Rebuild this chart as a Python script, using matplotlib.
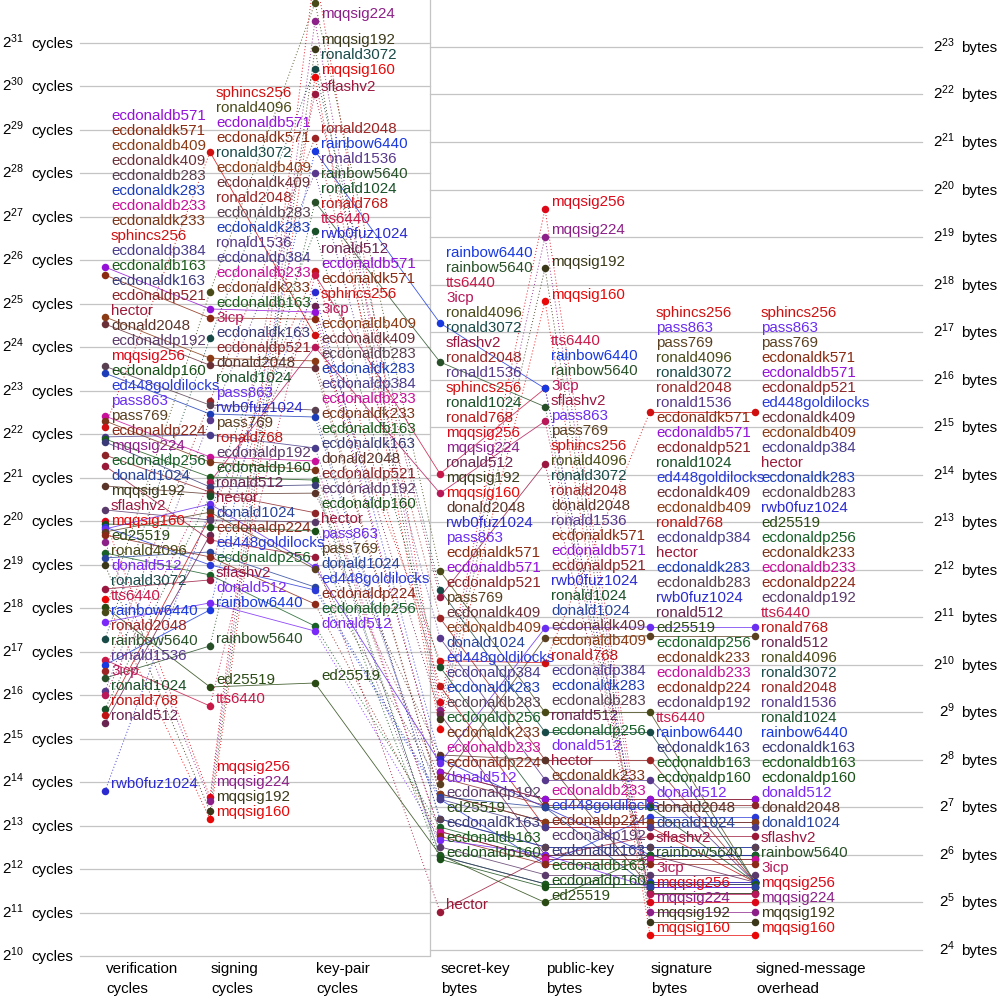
import matplotlib
matplotlib.use('Agg')
import matplotlib.pyplot as plt

plt.rcParams['font.family'] = ['Liberation Sans', 'DejaVu Sans']
plt.rcParams['mathtext.fontset'] = 'custom'
plt.rcParams['mathtext.rm'] = 'Liberation Sans'
plt.rcParams['mathtext.it'] = 'Liberation Sans:italic'
plt.rcParams['mathtext.bf'] = 'Liberation Sans:bold'

# ---------------- data ----------------
schemes = [
    'ecdonaldb571', 'ecdonaldk571', 'ecdonaldb409', 'ecdonaldk409', 'ecdonaldb283',
    'ecdonaldk283', 'ecdonaldb233', 'ecdonaldk233', 'sphincs256', 'ecdonaldp384',
    'ecdonaldb163', 'ecdonaldk163', 'ecdonaldp521', 'hector', 'donald2048',
    'ecdonaldp192', 'mqqsig256', 'ecdonaldp160', 'ed448goldilocks', 'pass863',
    'pass769', 'ecdonaldp224', 'mqqsig224', 'ecdonaldp256', 'donald1024',
    'mqqsig192', 'sflashv2', 'mqqsig160', 'ed25519', 'ronald4096',
    'donald512', 'ronald3072', 'tts6440', 'rainbow6440', 'ronald2048',
    'rainbow5640', 'ronald1536', '3icp', 'ronald1024', 'ronald768',
    'ronald512', 'rwb0fuz1024',
]

scheme_colors = [
    '#9411d8', '#8a2a10', '#8a3a14', '#6a3038', '#584050',
    '#1c3cb8', '#c8109a', '#7a3418', '#d01010', '#4a3c8c',
    '#1a5a1a', '#3a3a78', '#8c2428', '#9a1838', '#5a3428',
    '#5a3a6a', '#dc0818', '#185018', '#2a3ad8', '#6a2ef0',
    '#5a4020', '#8c2818', '#8c2088', '#186028', '#28449c',
    '#3a3818', '#9a1840', '#e80808', '#2a4a14', '#484a18',
    '#7a28f8', '#184a48', '#c81848', '#1838e0', '#9c2424',
    '#285028', '#58388c', '#b81858', '#185028', '#c01414',
    '#6a2450', '#2a2ad0',
]

verification_cycles = [
    60300000, 53100000, 27200000, 24300000, 12400000,
    11100000, 5610000, 5190000, 4710000, 4020000,
    3890000, 3710000, 3010000, 2530000, 1840000,
    1254000, 1052000, 1003000, 956000, 926000,
    883000, 842000, 753000, 632000, 584000,
    522000, 356000, 304000, 267000, 247000,
    210000, 160000, 115000, 106000, 96300,
    86100, 70000, 65700, 52500, 47700,
    42000, 14200,
]

signing_cycles = [
    30900000, 26800000, 14100000, 12600000, 6680000,
    5790000, 2920000, 2690000, 377000000, 4150000,
    2120000, 1810000, 1670000, 777000, 1620000,
    1069000, 12900, 956000, 522000, 1380000,
    1210000, 593000, 12100, 445000, 642000,
    10300, 411000, 9100, 74600, 40500000,
    285000, 19400000, 55100, 255000, 7130000,
    143500, 5270000, 1960000, 1570000, 1120000,
    842000, 1270000,
]

keypair_cycles = [
    29400000, 26300000, 13500000, 12100000, 6170000,
    5520000, 2740000, 2370000, 20400000, 3370000,
    2020000, 1870000, 1200000, 593000, 1640000,
    1035000, 6880000000, 897000, 350000, 505000,
    489000, 280000, 3050000000, 197000, 367000,
    1950000000, 951000000, 1250000000, 79500, 4060000000,
    182000, 1420000000, 53100000, 383000000, 471600000,
    170000000, 270000000, 16850000, 107000000, 56600000,
    32400000, 40500000,
]

secret_key_bytes = [
    216, 216, 156, 156, 108,
    108, 90, 90, 1088, 144,
    63, 63, 198, 28, 275,
    72, 593, 60, 144, 245,
    180, 84, 529, 96, 150,
    465, 2754, 401, 64, 4022,
    80, 3048, 16608, 149500, 2027,
    84800, 1514, 12500, 992, 752,
    500, 260,
]

public_key_bytes = [
    144, 144, 104, 104, 72,
    72, 60, 60, 1056, 96,
    42, 42, 132, 62, 256,
    48, 790000, 40, 56, 1752,
    1514, 56, 525000, 64, 128,
    333000, 19200, 206000, 32, 512,
    64, 384, 57600, 57600, 256,
    44160, 192, 35712, 128, 96,
    64, 128,
]

signature_bytes = [
    144, 144, 104, 104, 72,
    72, 60, 60, 41000, 96,
    42, 42, 132, 84, 40,
    48, 32, 40, 112, 1778,
    1563, 56, 28, 64, 40,
    24, 37, 20, 64, 512,
    40, 384, 43, 43, 256,
    37, 192, 36, 128, 96,
    64, 64,
]

overhead_bytes = [
    144, 144, 104, 104, 72,
    72, 60, 60, 41000, 96,
    42, 42, 132, 84, 40,
    48, 32, 40, 112, 1778,
    1563, 56, 28, 64, 40,
    24, 37, 20, 64, 43,
    40, 43, 43, 43, 43,
    37, 43, 36, 43, 43,
    43, 64,
]

column_titles = [('verification', 'cycles'), ('signing', 'cycles'), ('key-pair', 'cycles'),
                 ('secret-key', 'bytes'), ('public-key', 'bytes'), ('signature', 'bytes'),
                 ('signed-message', 'overhead')]
column_values = [verification_cycles, signing_cycles, keypair_cycles,
                 secret_key_bytes, public_key_bytes, signature_bytes, overhead_bytes]
column_is_cycles = [True, True, True, False, False, False, False]
cycle_tick_exponents = list(range(10, 32))
byte_tick_exponents = list(range(4, 24))

# ---------------- layout ----------------
W = H = 1000
col_x = [105, 210, 315, 440, 545, 650, 755]
SPACING = 15.0
FS = 10.9

fig = plt.figure(figsize=(10, 10), dpi=100)
cyc = fig.add_axes([0, 0, 1, 1])
cyc.set_xlim(0, W)
cyc.set_yscale('log', base=2)
cyc.set_ylim(2 ** (10 - 44 / 43.48), 2 ** (10 + 956 / 43.48))
byt = cyc.twinx()
byt.set_yscale('log', base=2)
byt.set_ylim(2 ** (4 - 50 / 47.53), 2 ** (4 + 950 / 47.53))
cyc.axis('off')
byt.axis('off')

px = fig.add_axes([0, 0, 1, 1])
px.set_xlim(0, W)
px.set_ylim(H, 0)
px.axis('off')


def to_px(axis, v):
    return H - axis.transData.transform((0, v))[1]


grid_c = '#c4c4c4'
TICK_DY = 5
for n in cycle_tick_exponents:
    y = to_px(cyc, 2.0 ** n)
    px.plot([80, 430], [y, y], color=grid_c, lw=0.9, zorder=0)
    px.text(2, y + TICK_DY, r'$\mathregular{2^{%d}}$' % n, ha='left', va='baseline', fontsize=FS)
    px.text(31, y + TICK_DY, 'cycles', ha='left', va='baseline', fontsize=FS)
for n in byte_tick_exponents:
    y = to_px(byt, 2.0 ** n)
    px.plot([430, 922], [y, y], color=grid_c, lw=0.9, zorder=0)
    px.text(955, y + TICK_DY, r'$\mathregular{2^{%d}}$' % n, ha='right', va='baseline', fontsize=FS)
    px.text(961, y + TICK_DY, 'bytes', ha='left', va='baseline', fontsize=FS)
px.plot([430, 430], [0, 955], color=grid_c, lw=0.9, zorder=0)

# dot positions in pixels
dot_y = []
for vals, isc in zip(column_values, column_is_cycles):
    axis = cyc if isc else byt
    dot_y.append([to_px(axis, v) for v in vals])

# connecting lines
for j in range(len(schemes)):
    for c in range(len(col_x) - 1):
        y0, y1 = dot_y[c][j], dot_y[c + 1][j]
        if abs(y1 - y0) <= 200:
            px.plot([col_x[c], col_x[c + 1]], [y0, y1], color=scheme_colors[j], lw=0.6,
                    alpha=0.85, zorder=1, solid_capstyle='butt')
        else:
            px.plot([col_x[c], col_x[c + 1]], [y0, y1], color=scheme_colors[j], lw=0.7,
                    alpha=0.9, zorder=1, linestyle=(0, (1, 2.2)))

# dots and labels
for c, vals in enumerate(column_values):
    order = sorted(range(len(schemes)), key=lambda j: (vals[j], schemes[j]), reverse=True)
    prev = None
    label_y = {}
    for j in reversed(order):
        y = dot_y[c][j]
        if prev is not None:
            y = min(y, prev - SPACING)
        label_y[j] = y
        prev = y
    for j in order:
        px.plot(col_x[c], dot_y[c][j], marker='o', ms=5.4, color=scheme_colors[j],
                mec='none', zorder=2)
        if label_y[j] > -5:
            px.text(col_x[c] + 6, label_y[j] - 2.6, schemes[j], color=scheme_colors[j],
                    fontsize=FS, ha='left', va='baseline', zorder=3)

# column titles
for x, (t1, t2) in zip(col_x, column_titles):
    px.text(x + 1, 973, t1, ha='left', va='baseline', fontsize=FS)
    px.text(x + 1, 993, t2, ha='left', va='baseline', fontsize=FS)

fig.savefig('out.png', dpi=100, facecolor='white')
